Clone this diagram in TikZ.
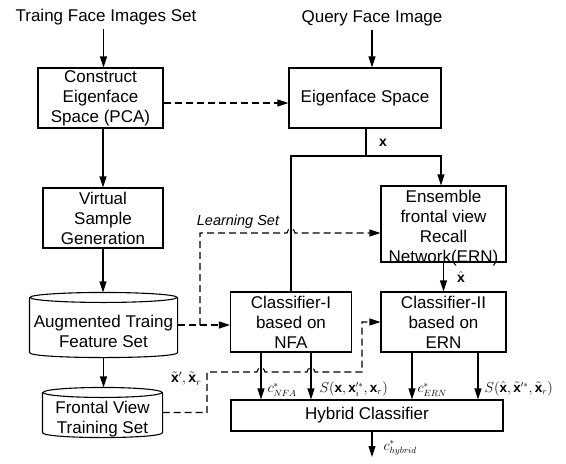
\documentclass[tikz,border=0pt]{standalone}
\usepackage{fontspec}
\setmainfont{Liberation Sans}
\usetikzlibrary{arrows.meta,calc}
\begin{document}
\begin{tikzpicture}[x=1pt,y=-1pt,
  line width=1.1pt,
  font=\fontsize{17}{20}\selectfont,
  box/.style={draw, rectangle, align=center, inner sep=0pt},
  shp/.style={rectangle, inner sep=0pt},
  arr/.style={-{Triangle[length=11pt,width=7pt]}},
  dsh/.style={dash pattern=on 7pt off 4pt},
  mlab/.style={inner sep=0pt, font=\fontsize{13.5}{15}\selectfont},
]
\useasboundingbox (0,0) rectangle (566,464);

% inputs
\node (tin) at (106,17) {Traing Face Images Set};
\node (qin) at (372,18) {Query Face Image};

% boxes
\node[box, minimum width=125pt, minimum height=60pt] (cons) at (100.5,98) {Construct\\Eigenface\\Space (PCA)};
\node[box, minimum width=152pt, minimum height=60pt] (eig) at (365,98) {Eigenface Space};
\node[box, minimum width=120pt, minimum height=60pt] (vsg) at (103,218) {Virtual\\Sample\\Generation};
\node[box, minimum width=125pt, minimum height=76pt] (ern) at (443.5,224) {};
\node[align=center, inner sep=0pt] (ernt) at (443.5,228) {Ensemble\\frontal view\\Recall\\Network(ERN)};
\node[box, minimum width=121pt, minimum height=60pt] (c1) at (291,322) {Classifier-I\\based on\\NFA};
\node[box, minimum width=125pt, minimum height=60pt] (c2) at (443.5,322) {Classifier-II\\based on\\ERN};
\node[box, minimum width=272pt, minimum height=31pt] (hy) at (367,415.5) {Hybrid Classifier};

% cylinders
\node[shp, minimum width=147pt, minimum height=64pt] (aug) at (103.5,325) {};
\node[align=center, inner sep=0pt] (augt) at (103.5,331) {Augmented Traing\\Feature Set};
\draw ($(aug.north)+(0,5)$) ellipse [x radius=73.5pt, y radius=5pt];
\draw ($(aug.north west)+(0,5)$) -- ($(aug.south west)+(0,-5)$)
  .. controls ($(aug.south west)+(0,1.67)$) and ($(aug.south east)+(0,1.67)$) .. ($(aug.south east)+(0,-5)$)
  -- ($(aug.north east)+(0,5)$);

\node[shp, minimum width=119pt, minimum height=49pt] (fr) at (102.5,412.5) {};
\node[align=center, inner sep=0pt] (frt) at (102.5,419) {Frontal View\\Training Set};
\draw ($(fr.north)+(0,5)$) ellipse [x radius=59.5pt, y radius=5pt];
\draw ($(fr.north west)+(0,5)$) -- ($(fr.south west)+(0,-5)$)
  .. controls ($(fr.south west)+(0,1.67)$) and ($(fr.south east)+(0,1.67)$) .. ($(fr.south east)+(0,-5)$)
  -- ($(fr.north east)+(0,5)$);

% solid flow
\draw[arr] ([xshift=3pt]cons.north |- tin.south) -- ([xshift=3pt]cons.north);
\draw[arr] (qin.south) -- (qin.south |- eig.north);
\draw[arr] (vsg.north |- cons.south) -- (vsg.north);
\draw[arr] (vsg.south) -- (vsg.south |- aug.north);
\draw[arr] (aug.south) -- (aug.south |- fr.north);

\coordinate (sp) at (366,156);
\coordinate (spR) at (441,156);
\draw (eig.south -| sp) -- (sp);
\draw (c1.north) -- (c1.north |- sp) -- (sp);
\draw[arr] (sp) -- (spR) -- (spR |- ern.north);
\node[mlab, font=\fontsize{14}{16}\selectfont] (xl) at (383,143) {$\mathbf{x}$};

\draw[arr] (ern.south) -- (ern.south |- c2.north);
\node[mlab, font=\fontsize{14}{16}\selectfont] (xh) at (461,277) {$\hat{\mathbf{x}}$};

% dashed
\draw[dsh,arr] ([yshift=-5pt]cons.east) -- ([yshift=-5pt]eig.west);
\draw[dsh,arr] (aug.east) -- (aug.east -| c1.west);
\coordinate (ls1) at (200,325);
\coordinate (ls2) at (200,233);
\draw[dsh,arr] (ls1) -- (ls2) -- (287,233) .. controls (287,227.7) and (295,227.7) .. (295,233) -- (ern.west |- ls2);
\node[inner sep=0pt, font=\itshape\fontsize{14.5}{16}\selectfont] (lsl) at (238,222) {Learning Set};

\coordinate (f1) at (207,412.5);
\coordinate (f2) at (207,372);
\coordinate (f3) at (362,372);
\draw[dsh,arr] (fr.east) -- (f1) -- (f2) -- (257,372) .. controls (257,366.7) and (265,366.7) .. (265,372)
  -- (307,372) .. controls (307,366.7) and (315,366.7) .. (315,372) -- (f3) -- (f3 |- c2.west) -- (c2.west);
\node[mlab, font=\fontsize{14}{16}\selectfont, anchor=east] (xtl) at (202,379) {$\tilde{\mathbf{x}}',\tilde{\mathbf{x}}_r$};

% to hybrid
\draw[arr] ([xshift=-30pt]c1.south) -- ([xshift=-30pt]c1.south |- hy.north);
\draw[arr] ([xshift=20pt]c1.south) -- ([xshift=20pt]c1.south |- hy.north);
\draw[arr] ([xshift=-31.5pt]c2.south) -- ([xshift=-31.5pt]c2.south |- hy.north);
\draw[arr] ([xshift=34.5pt]c2.south) -- ([xshift=34.5pt]c2.south |- hy.north);
\node[mlab, anchor=west] (l1) at (267,390) {$c^{*}_{NFA}$};
\node[mlab, anchor=west] (l2) at (319,389) {$S(\mathbf{x},\mathbf{x}'^{*}_{i},\mathbf{x}_r)$};
\node[mlab, anchor=west] (l3) at (417,390) {$c^{*}_{ERN}$};
\node[mlab, anchor=west] (l4) at (484,389) {$S(\hat{\mathbf{x}},\tilde{\mathbf{x}}'^{*},\tilde{\mathbf{x}}_r)$};

\coordinate (out) at (372,457);
\draw[arr] (hy.south -| out) -- (out);
\node[mlab, anchor=west] (l5) at (383,448) {$c^{*}_{hybrid}$};
\end{tikzpicture}
\end{document}
